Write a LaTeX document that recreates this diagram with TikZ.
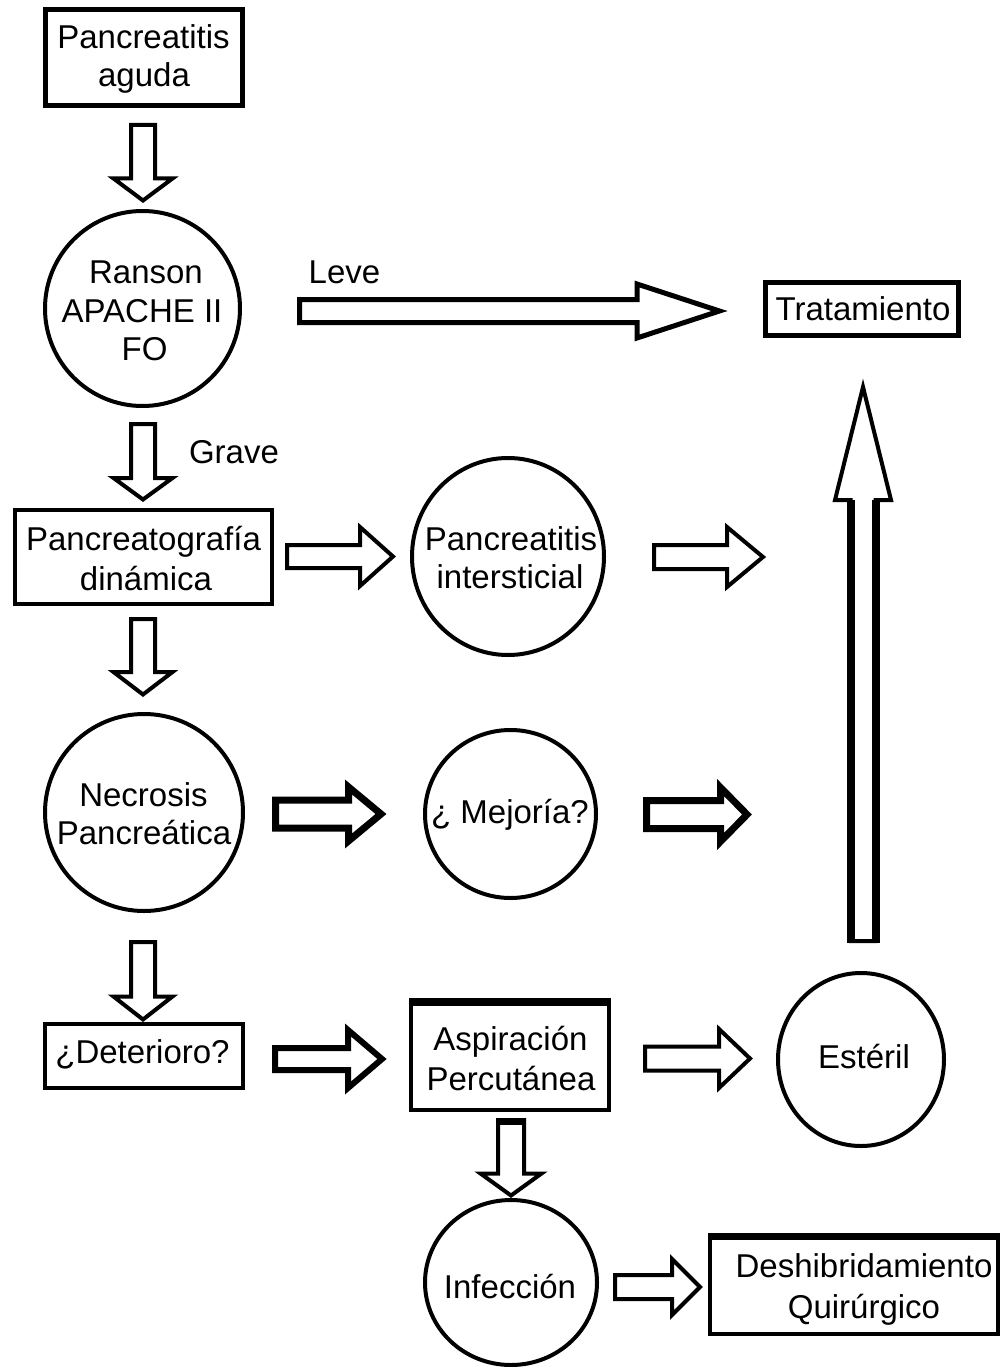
\documentclass[tikz,border=0pt]{standalone}
\usepackage{fontspec}
\setmainfont{Liberation Sans}
\usetikzlibrary{shapes.geometric}
% block arrow: [style]{tail coordinate}{angle}{length}{head length}{shaft half width}{head half width}
\newcommand{\barrow}[7][]{\draw[arrowline,#1,shift={(#2)},rotate=#3] (0,-#6) -- ({#4-#5},-#6) -- ({#4-#5},-#7) -- (#4,0) -- ({#4-#5},#7) -- ({#4-#5},#6) -- (0,#6) -- cycle;}
\begin{document}
\begin{tikzpicture}[x=1pt,y=-1pt,line join=miter,
  arrowline/.style={draw=black,line width=4pt,fill=white},
  boxn/.style={draw,rectangle,line width=4pt,inner sep=0pt},
  circn/.style={draw,ellipse,line width=4pt,inner sep=0pt},
  txt/.style={font=\fontsize{33}{39}\selectfont,inner sep=0pt,anchor=base}]
\useasboundingbox[fill=white] (0,0) rectangle (1002,1367);

% ---------- arrows ----------
\coordinate (a1) at (143,125);
\coordinate (a2) at (143,424);
\coordinate (a3) at (143,619);
\coordinate (a4) at (143,942);
\coordinate (a5) at (511,1120);
\coordinate (leveA) at (299.5,311);
\coordinate (piA) at (287,556.5);
\coordinate (irA) at (654,557);
\coordinate (nmA) at (275.5,814);
\coordinate (mrA) at (646.5,814.5);
\coordinate (daA) at (275,1059);
\coordinate (aeA) at (645,1058.5);
\coordinate (idA) at (615,1287);
\coordinate (upA) at (863,941);

\barrow{a1}{-90}{75.5}{22}{12}{29.5}
\barrow{a2}{-90}{75.5}{21.5}{12}{29.5}
\barrow{a3}{-90}{75.5}{22.5}{12}{29.5}
\barrow{a4}{-90}{77.5}{23}{12}{29.5}
\barrow{a5}{-90}{75.5}{22}{13}{30.5}
\draw[line width=7pt,shift={(a5)}] (-15,1.5) -- (15,1.5);
\barrow[line width=5pt]{leveA}{0}{420}{82.5}{11.5}{27}
\barrow{piA}{0}{106}{33}{11.5}{29.5}
\barrow{irA}{0}{109}{36}{12}{30}
\barrow[line width=7pt]{nmA}{0}{105.5}{32.5}{14}{27}
\barrow[line width=7pt]{mrA}{0}{100.5}{26.5}{14}{27}
\barrow[line width=6pt]{daA}{0}{107}{34}{11}{29}
\barrow{aeA}{0}{105}{31}{12}{29.5}
\barrow{idA}{0}{85}{28}{12}{28}
\barrow{upA}{90}{554}{113}{12.5}{28}
\draw[line width=8pt,shift={(upA)}] (-12.5,2) -- (-12.5,-441) (12.5,2) -- (12.5,-441);

% ---------- shapes ----------
\node[boxn,line width=5pt,minimum width=197pt,minimum height=96pt] (pa) at (144,57.5) {};
\node[circn,minimum width=195pt,minimum height=195pt] (ranson) at (142.5,308.5) {};
\node[boxn,line width=5pt,minimum width=193pt,minimum height=53pt] (trat) at (862,309) {};
\node[boxn,minimum width=257pt,minimum height=94pt] (pdin) at (143.5,557) {};
\node[circn,minimum width=192pt,minimum height=197pt] (pint) at (508,556.5) {};
\node[circn,minimum width=198pt,minimum height=197pt] (necro) at (144,812.5) {};
\node[circn,minimum width=171pt,minimum height=168pt] (mejo) at (510.5,814) {};
\node[boxn,minimum width=198pt,minimum height=64pt] (deter) at (144,1056) {};
\node[boxn,minimum width=198pt,minimum height=108pt] (asp) at (510,1056) {};
\draw[line width=8pt] ([yshift=-2pt]asp.north west) -- ([yshift=-2pt]asp.north east);
\node[circn,minimum width=166pt,minimum height=173pt] (este) at (861,1059.5) {};
\node[circn,minimum width=172pt,minimum height=165pt] (infe) at (511,1282.5) {};
\node[boxn,minimum width=288pt,minimum height=97pt] (desb) at (854,1285.5) {};
\draw[line width=7pt] ([yshift=-1.5pt]desb.north west) -- ([yshift=-1.5pt]desb.north east);

% ---------- texts ----------
\node[txt] (paT1) at (143.5,49) {Pancreatitis};
\node[txt] (paT2) at (144,87) {aguda};
\node[txt] (raT1) at (146,283) {Ranson};
\node[txt] (raT2) at (142,322) {APACHE II};
\node[txt] (raT3) at (144.5,360) {FO};
\node[txt] (leve) at (344.5,283) {Leve};
\node[txt] (tratT) at (863,320) {Tratamiento};
\node[txt] (grave) at (234,463) {Grave};
\node[txt] (pdT1) at (143.5,550) {Pancreatografía};
\node[txt] (pdT2) at (146,590) {dinámica};
\node[txt] (piT1) at (511,550) {Pancreatitis};
\node[txt] (piT2) at (510,588) {intersticial};
\node[txt] (neT1) at (143.5,806) {Necrosis};
\node[txt] (neT2) at (144,844) {Pancreática};
\node[txt] (meT) at (510,823) {¿ Mejoría?};
\node[txt] (deT) at (142.5,1063) {¿Deterioro?};
\node[txt] (asT1) at (510.5,1050) {Aspiración};
\node[txt] (asT2) at (511,1090) {Percutánea};
\node[txt] (esT) at (864,1068) {Estéril};
\node[txt] (inT) at (510,1298) {Infección};
\node[txt] (dsT1) at (864,1277) {Deshibridamiento};
\node[txt] (dsT2) at (864,1318) {Quirúrgico};
\end{tikzpicture}
\end{document}
